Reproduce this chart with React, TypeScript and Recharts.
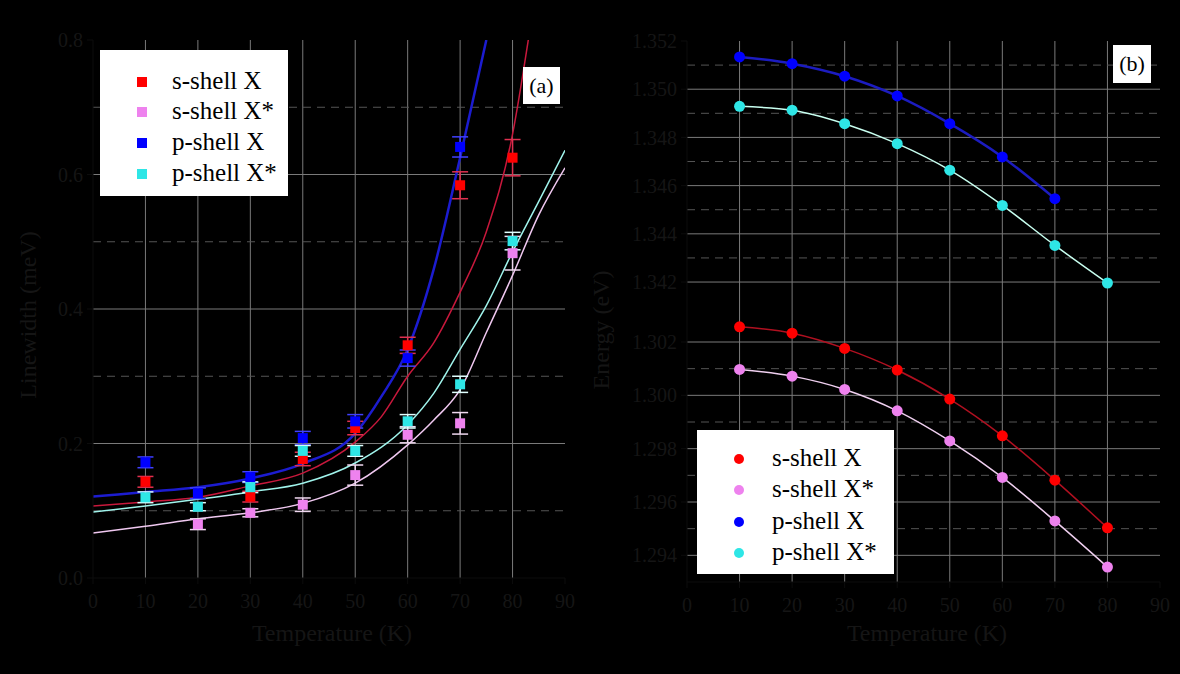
import React from 'react';
import { ComposedChart, Line, Scatter, XAxis, YAxis, CartesianGrid, ErrorBar } from 'recharts';

const FONT = '"Liberation Serif", "Times New Roman", serif';
const TEXT = '#151515';

// measurement temperatures (K)
const temps = [10, 20, 30, 40, 50, 60, 70, 80];
const tempTicks = [0, 10, 20, 30, 40, 50, 60, 70, 80, 90];
const tempGrid = [10, 20, 30, 40, 50, 60, 70, 80];

const seriesNames = ['s-shell X', 's-shell X*', 'p-shell X', 'p-shell X*'];
const markerColors = ['#ff0000', '#ee82ee', '#0000ff', '#2ee6e6'];

// (a) linewidth in meV
const widthTicks = [0, 0.2, 0.4, 0.6, 0.8];
const widthMajor = [0.2, 0.4, 0.6];
const widthMinor = [0.1, 0.3, 0.5, 0.7];

const sXWidth = [0.143, null, 0.121, 0.177, 0.223, 0.346, 0.584, 0.625];
const sXWidthErr = [0.008, 0.008, 0.008, 0.01, 0.01, 0.012, 0.02, 0.027];
const sXsWidth = [null, 0.08, 0.097, 0.109, 0.153, 0.213, 0.23, 0.483];
const sXsWidthErr = [0.008, 0.008, 0.006, 0.01, 0.015, 0.012, 0.016, 0.025];
const pXWidth = [0.172, 0.126, 0.15, 0.208, 0.233, 0.327, 0.641, null];
const pXWidthErr = [0.008, 0.008, 0.008, 0.01, 0.01, 0.012, 0.015, 0.015];
const pXsWidth = [0.12, 0.106, 0.135, 0.189, 0.189, 0.233, 0.288, 0.501];
const pXsWidthErr = [0.008, 0.006, 0.008, 0.008, 0.008, 0.01, 0.012, 0.013];

// fitted linewidth curves
const sXFitT = [0, 10, 20, 30, 40, 50, 55, 60, 65, 70, 75, 80, 83];
const sXFit = [0.107, 0.113, 0.12, 0.137, 0.156, 0.202, 0.24, 0.3, 0.35, 0.425, 0.515, 0.66, 0.8];
const sXsFitT = [0, 10, 20, 30, 40, 50, 60, 65, 70, 75, 80, 85, 90];
const sXsFit = [0.067, 0.077, 0.088, 0.097, 0.111, 0.141, 0.198, 0.235, 0.28, 0.365, 0.45, 0.54, 0.61];
const pXFitT = [0, 10, 20, 30, 40, 50, 55, 60, 65, 70, 75];
const pXFit = [0.121, 0.128, 0.135, 0.148, 0.17, 0.215, 0.27, 0.34, 0.46, 0.625, 0.8];
const pXsFitT = [0, 10, 20, 30, 40, 50, 60, 65, 70, 75, 80, 85, 90];
const pXsFit = [0.098, 0.107, 0.117, 0.128, 0.141, 0.171, 0.228, 0.275, 0.34, 0.405, 0.485, 0.56, 0.636];

// (b) emission energy in eV, split axis
const upperTicks = [1.342, 1.344, 1.346, 1.348, 1.35, 1.352];
const upperMajor = [1.342, 1.344, 1.346, 1.348, 1.35];
const upperMinor = [1.343, 1.345, 1.347, 1.349, 1.351];
const lowerTicks = [1.294, 1.296, 1.298, 1.3, 1.302];
const lowerMajor = [1.294, 1.296, 1.298, 1.3, 1.302];
const lowerMinor = [1.295, 1.297, 1.299, 1.301];

const sXEnergy = [1.30257, 1.30233, 1.30176, 1.30095, 1.29986, 1.29848, 1.29682, 1.29503];
const sXsEnergy = [1.30097, 1.30072, 1.30022, 1.29942, 1.29829, 1.29692, 1.29529, 1.29356];
const pXEnergy = [1.35134, 1.35106, 1.35054, 1.34972, 1.34857, 1.34719, 1.34546, null];
const pXsEnergy = [1.34929, 1.34913, 1.34857, 1.34774, 1.34664, 1.34518, 1.34352, 1.34196];

const pts = (xs: number[], ys: (number | null)[], errs?: number[]) =>
  xs
    .map((t, i) => ({ t, v: ys[i], e: errs ? errs[i] : 0 }))
    .filter((p) => p.v != null);

const tickStyle = { fill: TEXT, fontSize: 20, fontFamily: FONT };
const axisStroke = { stroke: '#0c0c0c' };

const squareShape = (color: string) => (p: any) =>
  <rect x={p.cx - 5} y={p.cy - 5} width={10} height={10} fill={color} />;
const circleShape = (color: string) => (p: any) =>
  <circle cx={p.cx} cy={p.cy} r={5.5} fill={color} />;

const widthSeries = [
  { pts: pts(temps, sXWidth, sXWidthErr), fit: pts(sXFitT, sXFit), line: '#c8183c', err: '#e03050' },
  { pts: pts(temps, sXsWidth, sXsWidthErr), fit: pts(sXsFitT, sXsFit), line: '#f0c8f0', err: '#f0d8f0' },
  { pts: pts(temps, pXWidth, pXWidthErr), fit: pts(pXFitT, pXFit), line: '#1c1cd0', err: '#4040ff' },
  { pts: pts(temps, pXsWidth, pXsWidthErr), fit: pts(pXsFitT, pXsFit), line: '#a0f4ec', err: '#e0ffff' },
];

const energyLines = ['#b01020', '#f0d0f0', '#1c1cc0', '#c8fff0'];
const energySeries = [
  pts(temps, sXEnergy),
  pts(temps, sXsEnergy),
  pts(temps, pXEnergy),
  pts(temps, pXsEnergy),
];

const MarkerLegend = ({ left, top, width, height, rows, markerX, textX, round }: any) => (
  <div style={{ position: 'absolute', left, top, width, height, background: '#fff' }}>
    {seriesNames.map((name, i) => (
      <React.Fragment key={name}>
        <div
          style={{
            position: 'absolute',
            left: markerX - 5,
            top: rows[i] - 5,
            width: 10,
            height: 10,
            background: markerColors[i],
            borderRadius: round ? '50%' : 0,
          }}
        />
        <div
          style={{
            position: 'absolute',
            left: textX,
            top: rows[i] - 16,
            lineHeight: '30px',
            fontSize: 25,
            fontFamily: FONT,
            color: '#000',
            whiteSpace: 'nowrap',
          }}
        >
          {name}
        </div>
      </React.Fragment>
    ))}
  </div>
);

const PanelTag = ({ left, top, size, text }: any) => (
  <div
    style={{
      position: 'absolute',
      left,
      top,
      width: size,
      height: size,
      background: '#fff',
      color: '#000',
      fontFamily: FONT,
      fontSize: 22,
      lineHeight: `${size}px`,
      textAlign: 'center',
    }}
  >
    {text}
  </div>
);

const AxisTitle = ({ x, y, text, rotate }: any) => (
  <div
    style={{
      position: 'absolute',
      left: x,
      top: y,
      transform: `translate(-50%, -50%)${rotate ? ' rotate(-90deg)' : ''}`,
      fontFamily: FONT,
      fontSize: 24,
      color: TEXT,
      whiteSpace: 'nowrap',
    }}
  >
    {text}
  </div>
);

const energyAxisProps = {
  type: 'number' as const,
  dataKey: 'v',
  width: 70,
  tick: tickStyle,
  tickMargin: 4,
  axisLine: axisStroke,
  tickLine: axisStroke,
  allowDataOverflow: true,
  tickFormatter: (v: number) => v.toFixed(3),
};

const renderEnergy = (idx: number[]) =>
  idx.map((i) => [
    <Line
      key={`l${i}`}
      data={energySeries[i]}
      dataKey="v"
      type="monotone"
      stroke={energyLines[i]}
      strokeWidth={i === 2 ? 2.5 : 1.5}
      dot={false}
      legendType="none"
      isAnimationActive={false}
    />,
    <Scatter
      key={`s${i}`}
      data={energySeries[i]}
      dataKey="v"
      shape={circleShape(markerColors[i])}
      isAnimationActive={false}
    />,
  ]);

export default function App() {
  return (
    <div style={{ position: 'absolute', left: 0, top: 0, width: 1180, height: 674, background: '#000', overflow: 'hidden' }}>
      {/* (a) linewidth vs temperature */}
      <div style={{ position: 'absolute', left: 0, top: 0 }}>
        <ComposedChart width={600} height={674} margin={{ top: 40, right: 35, bottom: 56, left: 33 }}>
          <CartesianGrid stroke="#7a7a7a" horizontalValues={widthMajor} verticalValues={tempGrid} />
          <CartesianGrid stroke="#555" strokeDasharray="8 6" vertical={false} horizontalValues={widthMinor} />
          <XAxis
            type="number"
            dataKey="t"
            domain={[0, 90]}
            ticks={tempTicks}
            height={40}
            tick={tickStyle}
            tickMargin={10}
            axisLine={axisStroke}
            tickLine={axisStroke}
            allowDataOverflow
          />
          <YAxis
            type="number"
            dataKey="v"
            domain={[0, 0.8]}
            ticks={widthTicks}
            width={60}
            tick={tickStyle}
            tickMargin={4}
            axisLine={axisStroke}
            tickLine={axisStroke}
            tickFormatter={(v: number) => v.toFixed(1)}
            allowDataOverflow
          />
          {widthSeries.map((s, i) => (
            <Line
              key={`fit${i}`}
              data={s.fit}
              dataKey="v"
              type="monotone"
              stroke={s.line}
              strokeWidth={i === 2 ? 2.5 : 1.5}
              dot={false}
              legendType="none"
              isAnimationActive={false}
            />
          ))}
          {widthSeries.map((s, i) => (
            <Scatter key={`pts${i}`} data={s.pts} dataKey="v" shape={squareShape(markerColors[i])} isAnimationActive={false}>
              <ErrorBar dataKey="e" direction="y" width={8} stroke={s.err} strokeWidth={1.5} isAnimationActive={false} />
            </Scatter>
          ))}
        </ComposedChart>
      </div>

      {/* (b) energy vs temperature, upper part (p-shell) */}
      <div style={{ position: 'absolute', left: 590, top: 0 }}>
        <ComposedChart width={590} height={330} margin={{ top: 41, right: 20, bottom: 20, left: 27 }}>
          <CartesianGrid stroke="#7a7a7a" horizontalValues={upperMajor} verticalValues={tempGrid} />
          <CartesianGrid stroke="#555" strokeDasharray="8 6" vertical={false} horizontalValues={upperMinor} />
          <XAxis hide type="number" dataKey="t" domain={[0, 90]} ticks={tempTicks} allowDataOverflow />
          <YAxis {...energyAxisProps} domain={[1.34084, 1.352]} ticks={upperTicks} />
          {renderEnergy([2, 3])}
        </ComposedChart>
      </div>

      {/* (b) lower part (s-shell) */}
      <div style={{ position: 'absolute', left: 590, top: 310 }}>
        <ComposedChart width={590} height={364} margin={{ top: 0, right: 20, bottom: 52, left: 27 }}>
          <CartesianGrid stroke="#7a7a7a" horizontalValues={lowerMajor} verticalValues={tempGrid} />
          <CartesianGrid stroke="#555" strokeDasharray="8 6" vertical={false} horizontalValues={lowerMinor} />
          <XAxis
            type="number"
            dataKey="t"
            domain={[0, 90]}
            ticks={tempTicks}
            height={40}
            tick={tickStyle}
            tickMargin={10}
            axisLine={axisStroke}
            tickLine={axisStroke}
            allowDataOverflow
          />
          <YAxis {...energyAxisProps} domain={[1.293, 1.3032]} ticks={lowerTicks} />
          {renderEnergy([0, 1])}
        </ComposedChart>
      </div>

      <AxisTitle x={332} y={633} text="Temperature (K)" />
      <AxisTitle x={927} y={633} text="Temperature (K)" />
      <AxisTitle x={28} y={315} text="Linewidth (meV)" rotate />
      <AxisTitle x={601} y={330} text="Energy (eV)" rotate />

      <MarkerLegend left={100} top={50} width={188} height={146} rows={[32, 62, 93, 124]} markerX={42} textX={72} />
      <MarkerLegend left={697} top={430} width={197} height={144} rows={[29, 60, 92, 123]} markerX={42} textX={75} round />

      <PanelTag left={523} top={67} size={37} text="(a)" />
      <PanelTag left={1113} top={45} size={38} text="(b)" />
    </div>
  );
}
